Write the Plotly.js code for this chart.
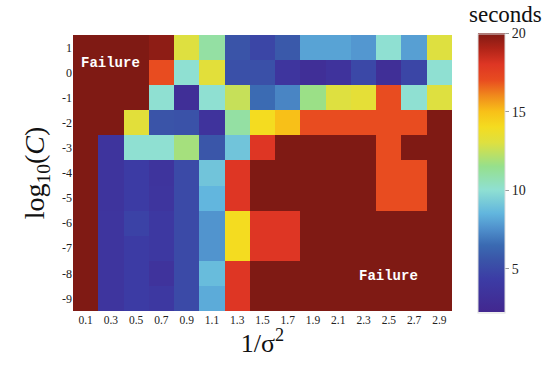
<!DOCTYPE html>
<html><head><meta charset="utf-8">
<script src="https://cdn.plot.ly/plotly-3.0.1.min.js"></script>
<style>body{margin:0;background:#fff}#chart{width:551px;height:368px}</style>
</head><body><div id="chart"></div>
<script>
const invSigma2 = [0.1,0.3,0.5,0.7,0.9,1.1,1.3,1.5,1.7,1.9,2.1,2.3,2.5,2.7,2.9];
const log10C = [1,0,-1,-2,-3,-4,-5,-6,-7,-8,-9];
const xTickLabels = ["0.1","0.3","0.5","0.7","0.9","1.1","1.3","1.5","1.7","1.9","2.1","2.3","2.5","2.7","2.9"];
const yTickLabels = ["1","0","-1","-2","-3","-4","-5","-6","-7","-8","-9"];
// seconds (20 = failure)
const rowP1 = [20,20,20,19.7,13,11,5.5,4.8,5.7,8,8,7.7,10,7.9,13];
const row0  = [20,20,20,17,10,13.2,5.3,5.3,3.6,3,3.4,4.9,3,4.8,10];
const rowM1 = [20,20,20,10,3,10,12.5,6.5,7.2,11.6,13,13.3,17,10,13];
const rowM2 = [20,20,13.2,5.5,5.4,3.4,11,14,15,17,17,17,17,17,20];
const rowM3 = [20,3.5,10,10,11.8,5.6,9,18,20,20,20,20,17,20,20];
const rowM4 = [20,3.5,4.2,3.5,5,9,18,20,20,20,20,20,17,17,20];
const rowM5 = [20,3.5,4.2,3.6,5,8.5,18,20,20,20,20,20,17,17,20];
const rowM6 = [20,3.6,4.6,3.9,5,7.6,14,18,18,20,20,20,20,20,20];
const rowM7 = [20,3.6,4.2,3.9,5,7.6,14,18,18,20,20,20,20,20,20];
const rowM8 = [20,3.6,4.2,3.4,5,8.7,18,20,20,20,20,20,20,20,20];
const rowM9 = [20,3.6,4.2,3.9,5,8.2,18,20,20,20,20,20,20,20,20];
const seconds = [rowP1,row0,rowM1,rowM2,rowM3,rowM4,rowM5,rowM6,rowM7,rowM8,rowM9];
const failureLabels = [{x:0.3,y:0.4},{x:2.5,y:-8.1}];

const colorscale = [
 [0,'#42278f'],[0.118,'#3c3ca5'],[0.185,'#3a54a8'],[0.24,'#3a6ab2'],
 [0.298,'#4f90cc'],[0.354,'#62b6de'],[0.438,'#8fe0d2'],[0.522,'#96e08c'],
 [0.607,'#dee040'],[0.663,'#f4dc20'],[0.719,'#f8c018'],[0.775,'#f08a1c'],
 [0.831,'#e84c20'],[0.888,'#de3624'],[0.944,'#b02418'],[1,'#7f1a14']
];
const serif = 'Liberation Serif, Times New Roman, serif';
const trace = {
  type:'heatmap', x:invSigma2, y:log10C, z:seconds,
  zmin:2.2, zmax:20, colorscale:colorscale,
  colorbar:{x:1.069, xanchor:'left', y:0.5, yanchor:'middle',
    thickness:27, len:279, lenmode:'pixels', ypad:0, xpad:0,
    outlinewidth:1, outlinecolor:'#dddddd',
    tickvals:[5,10,15,20], ticks:'outside', ticklen:4, tickcolor:'#999',
    tickfont:{family:serif,size:14,color:'#222'}},
  hoverinfo:'none'
};
const layout = {
  width:551, height:368,
  margin:{l:73,r:99,t:35,b:57},
  paper_bgcolor:'#fff', plot_bgcolor:'#fff',
  xaxis:{tickvals:invSigma2, ticktext:xTickLabels, ticks:'', showgrid:false, zeroline:false,
    range:[0,3.0], tickfont:{family:serif,size:11.5,color:'#222'},
    title:{text:'1/σ<sup>2</sup>', font:{family:serif,size:26,color:'#111'}, standoff:6}},
  yaxis:{tickvals:log10C, ticktext:yTickLabels, ticks:'', showgrid:false, zeroline:false,
    range:[-9.5,1.5], tickfont:{family:serif,size:12,color:'#222'},
    title:{text:'log<sub>10</sub>(<i>C</i>)', font:{family:serif,size:28,color:'#111'}, standoff:9}},
  annotations: failureLabels.map(p=>({x:p.x,y:p.y,xref:'x',yref:'y',text:'<b>Failure</b>',showarrow:false,
    font:{family:'Liberation Mono, Courier New, monospace',size:14,color:'#fff'}})).concat([
    {xref:'paper',yref:'paper',x:1.14,y:1.0,xanchor:'center',yanchor:'bottom',yshift:7,borderpad:0,text:'seconds',showarrow:false,
     font:{family:serif,size:23,color:'#111'}}])
};
Plotly.newPlot('chart',[trace],layout,{displayModeBar:false,staticPlot:true});
</script></body></html>
